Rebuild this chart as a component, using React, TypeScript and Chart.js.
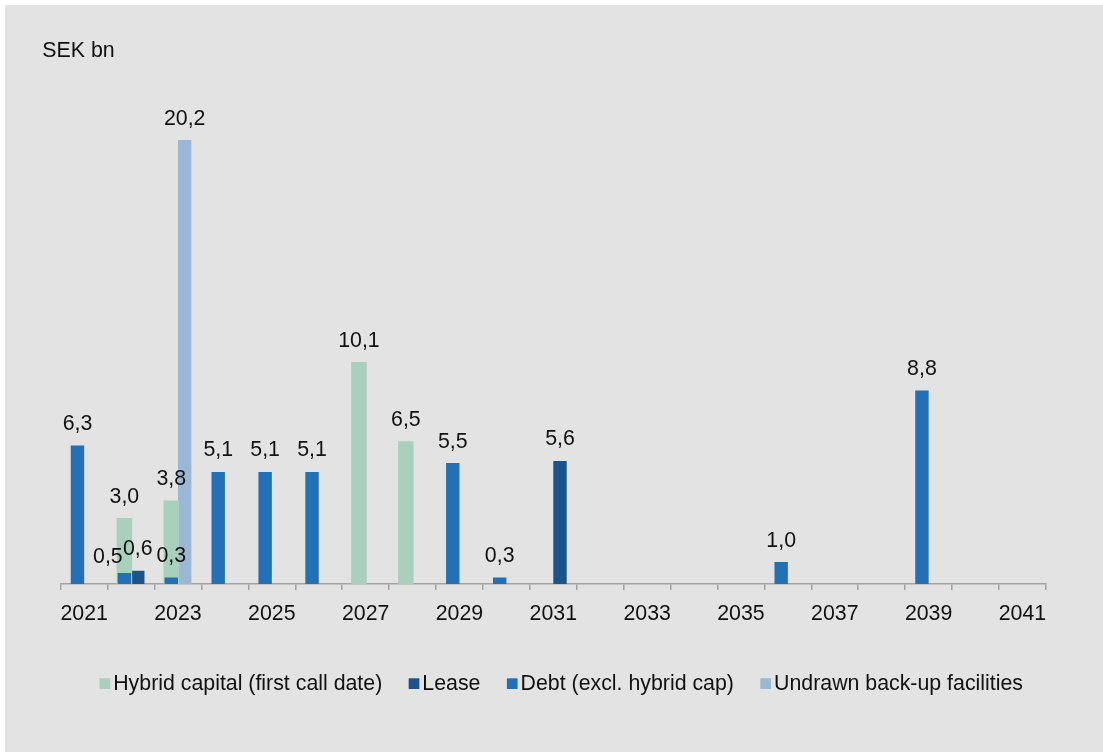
import React, { useEffect, useRef } from "react";
import { Chart, registerables } from "chart.js";

Chart.register(...registerables);

const years = [
  "2021", "2022", "2023", "2024", "2025", "2026", "2027", "2028", "2029", "2030",
  "2031", "2032", "2033", "2034", "2035", "2036", "2037", "2038", "2039", "2040", "2041",
];

const hybridCapital = [null, 3.0, 3.8, null, null, null, 10.1, 6.5, null, null, null, null, null, null, null, null, null, null, null, null, null];
const lease = [null, 0.6, null, null, null, null, null, null, null, null, 5.6, null, null, null, null, null, null, null, null, null, null];
const debt = [6.3, 0.5, 0.3, 5.1, 5.1, 5.1, null, null, 5.5, 0.3, null, null, null, null, null, 1.0, null, null, 8.8, null, null];
const undrawn = [null, null, 20.2, null, null, null, null, null, null, null, null, null, null, null, null, null, null, null, null, null, null];

const seriesNames = [
  "Hybrid capital (first call date)",
  "Lease",
  "Debt (excl. hybrid cap)",
  "Undrawn back-up facilities",
];

const unitLabel = "SEK bn";

const FONT = "'Liberation Sans', Arial, sans-serif";
const FS = 21.33;
const TEXT = "#111111";

const fmt = (v: number) => v.toFixed(1).replace(".", ",");

const valueLabels = {
  id: "valueLabels",
  afterDatasetsDraw(chart: any, _args: any, opts: any) {
    const ctx = chart.ctx;
    ctx.save();
    ctx.font = `${FS}px ${FONT}`;
    ctx.fillStyle = TEXT;
    ctx.textAlign = "center";
    ctx.textBaseline = "alphabetic";
    chart.data.datasets.forEach((ds: any, di: number) => {
      const meta = chart.getDatasetMeta(di);
      meta.data.forEach((bar: any, i: number) => {
        const v = ds.data[i];
        if (v === null || v === undefined) return;
        const off = (opts.offsets && opts.offsets[`${di}:${i}`]) || [0, 0];
        ctx.fillText(fmt(v), bar.x + off[0], bar.y - opts.gap + off[1]);
      });
    });
    ctx.restore();
  },
};

const customLegend = {
  id: "customLegend",
  afterDraw(chart: any, _args: any, opts: any) {
    const ctx = chart.ctx;
    ctx.save();
    ctx.font = `${FS}px ${FONT}`;
    ctx.textBaseline = "alphabetic";
    ctx.textAlign = "left";
    let x = opts.startX;
    chart.data.datasets.forEach((ds: any) => {
      ctx.fillStyle = ds.backgroundColor;
      ctx.fillRect(x, opts.boxTop, opts.box, opts.box);
      x += opts.box + opts.gap;
      ctx.fillStyle = TEXT;
      ctx.fillText(ds.label, x, opts.baseline);
      x += ctx.measureText(ds.label).width + opts.spacing;
    });
    ctx.restore();
  },
};

const unitTitle = {
  id: "unitTitle",
  afterDraw(chart: any, _args: any, opts: any) {
    const ctx = chart.ctx;
    ctx.save();
    ctx.font = `${FS}px ${FONT}`;
    ctx.fillStyle = TEXT;
    ctx.textAlign = "left";
    ctx.textBaseline = "alphabetic";
    ctx.fillText(opts.text, opts.x, opts.y);
    ctx.restore();
  },
};

export default function App() {
  const ref = useRef<HTMLCanvasElement>(null);

  useEffect(() => {
    if (!ref.current) return;
    const chart = new Chart(ref.current, {
      type: "bar",
      data: {
        labels: years,
        datasets: [
          {
            label: seriesNames[0],
            data: hybridCapital,
            backgroundColor: "#a9cfbd",
            stack: "a",
            order: 1,
            categoryPercentage: 0.571,
            barPercentage: 1.16,
          },
          {
            label: seriesNames[1],
            data: lease,
            backgroundColor: "#1b548c",
            stack: "b",
            order: 2,
            categoryPercentage: 0.571,
            barPercentage: 1,
          },
          {
            label: seriesNames[2],
            data: debt,
            backgroundColor: "#2271b6",
            stack: "a",
            order: 0,
            categoryPercentage: 0.571,
            barPercentage: 1,
          },
          {
            label: seriesNames[3],
            data: undrawn,
            backgroundColor: "#9ab8d6",
            stack: "b",
            order: 3,
            categoryPercentage: 0.571,
            barPercentage: 1,
          },
        ] as any,
      },
      options: {
        animation: false,
        responsive: false,
        events: [],
        layout: {
          padding: { left: 55.7, right: 57.1, top: 29.5, bottom: 128 },
        },
        scales: {
          x: {
            grid: {
              display: true,
              offset: true,
              drawOnChartArea: false,
              drawTicks: true,
              tickLength: 6,
              color: "#a3a3a3",
              lineWidth: 1.5,
            },
            border: { display: true, color: "#a3a3a3", width: 1.5 },
            ticks: {
              autoSkip: false,
              maxRotation: 0,
              minRotation: 0,
              padding: 11,
              color: TEXT,
              font: { family: FONT, size: FS },
              callback: (_v: any, i: number) => (i % 2 === 0 ? years[i] : ""),
            },
            afterFit: (scale: any) => {
              scale.height = 40;
            },
          },
          y: {
            display: false,
            stacked: false,
            min: 0,
            max: 25,
          },
        },
        plugins: {
          legend: { display: false },
          tooltip: { enabled: false },
          valueLabels: { gap: 15.5, offsets: { "2:1": [-16.5, 5.5] } },
          customLegend: { startX: 94.5, boxTop: 673.3, box: 10.7, gap: 3, spacing: 26.4, baseline: 684.5 },
          unitTitle: { text: unitLabel, x: 37.3, y: 51.7 },
        } as any,
      },
      plugins: [valueLabels, customLegend, unitTitle],
    });
    return () => chart.destroy();
  }, []);

  return (
    <div
      style={{
        position: "fixed",
        left: 5,
        top: 5,
        width: 1098,
        height: 747,
        background: "#e3e3e3",
      }}
    >
      <canvas ref={ref} width={1098} height={747} style={{ display: "block" }} />
    </div>
  );
}
